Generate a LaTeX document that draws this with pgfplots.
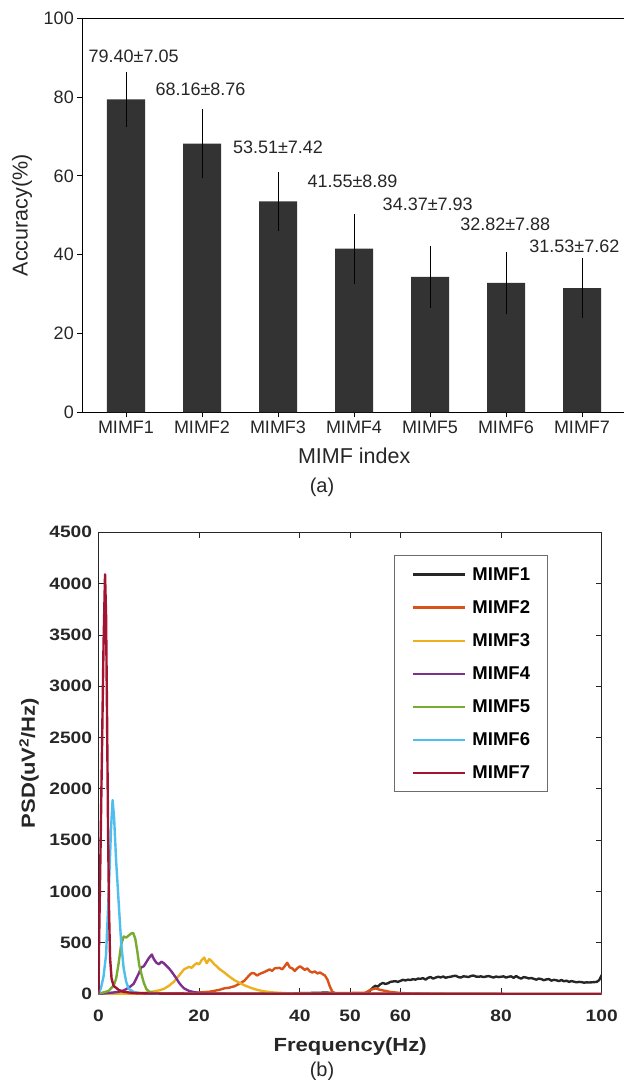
\documentclass[border=0pt]{standalone}
\usepackage{pgfplots}
\pgfplotsset{compat=1.18}
\usepackage{fontspec}
\setmainfont{Liberation Sans}
\newfontfamily\stretchsans[FakeStretch=1.16]{Liberation Sans}
\definecolor{barc}{HTML}{333333}
\definecolor{txt}{HTML}{262626}
\definecolor{mA}{HTML}{262626}
\definecolor{mB}{HTML}{D95319}
\definecolor{mC}{HTML}{EDB120}
\definecolor{mD}{HTML}{7E2F8E}
\definecolor{mE}{HTML}{77AC30}
\definecolor{mF}{HTML}{4DBEEE}
\definecolor{mG}{HTML}{A2142F}

\pgfplotstableread{
x y e
1 79.40 7.05
2 68.16 8.76
3 53.51 7.42
4 41.55 8.89
5 34.37 7.93
6 32.82 7.88
7 31.53 7.62
}\acc

\begin{document}
\begin{tikzpicture}
\useasboundingbox (0,0) rectangle (624pt,1080pt);
% ---------------- (a) ----------------
\begin{axis}[
  at={(82.3pt,667.7pt)}, anchor=south west,
  scale only axis, width=543.7pt, height=394pt,
  xmin=0.425, xmax=7.579, ymin=0, ymax=100,
  xtick={1,2,3,4,5,6,7},
  xticklabels={MIMF1,MIMF2,MIMF3,MIMF4,MIMF5,MIMF6,MIMF7},
  ytick={0,20,40,60,80,100},
  tick align=outside, xtick pos=left, ytick pos=left,
  major tick length=5pt,
  axis line style={line width=0.8pt, black},
  tick style={line width=0.8pt, black},
  /pgf/number format/assume math mode=true,
  ticklabel style={font=\fontsize{18}{20}\selectfont, text=txt},
  label style={font=\fontsize{21.5}{24}\selectfont, text=txt},
  xlabel={MIMF index},
  xlabel style={at={(axis description cs:0.5,-0.13)}, anchor=base},
  ylabel={Accuracy(\%)},
  ylabel style={at={(axis description cs:-0.1109,0.5)}, anchor=center},
  clip=false,
]
\addplot[ybar, bar width=38pt, fill=barc, draw=none,
  error bars/.cd, y dir=both, y explicit, error mark=none,
  error bar style={line width=0.9pt, black}]
  table[x=x, y=y, y error=e] {\acc};
\begin{scope}[every node/.style={font=\fontsize{18}{20}\selectfont, text=txt, inner sep=0pt, anchor=center}]
\node at (axis cs:1.10,90.4) {79.40±7.05};
\node at (axis cs:1.98,81.9) {68.16±8.76};
\node at (axis cs:3.00,67.2) {53.51±7.42};
\node at (axis cs:3.98,58.7) {41.55±8.89};
\node at (axis cs:4.97,52.9) {34.37±7.93};
\node at (axis cs:5.99,47.6) {32.82±7.88};
\node at (axis cs:6.90,42.2) {31.53±7.62};
\end{scope}
\end{axis}
\node[anchor=base, font=\fontsize{20}{22}\selectfont, text=txt] at (322pt,587pt) {(a)};

% ---------------- (b) ----------------
\begin{axis}[
  at={(98.5pt,86pt)}, anchor=south west,
  scale only axis, width=503.2pt, height=461.7pt,
  xmin=0, xmax=100, ymin=0, ymax=4500,
  xtick={0,20,40,50,60,80,100},
  ytick={0,500,1000,1500,2000,2500,3000,3500,4000,4500},
  scaled y ticks=false,
  /pgf/number format/1000 sep={},
  tick align=inside, major tick length=6pt,
  axis line style={line width=0.8pt, txt},
  tick style={line width=0.8pt, txt},
  /pgf/number format/assume math mode=true,
  ticklabel style={font=\stretchsans\bfseries\fontsize{16.5}{18}\selectfont, text=txt},
  xticklabel style={yshift=-12pt},
  yticklabel style={xshift=-3pt},
  label style={font=\stretchsans\bfseries\fontsize{19}{21}\selectfont, text=txt},
  xlabel={Frequency(Hz)},
  xlabel style={at={(axis description cs:0.5,-0.1235)}, anchor=base},
  ylabel={PSD(uV\textsuperscript{2}/Hz)},
  ylabel style={at={(axis description cs:-0.1381,0.5)}, anchor=center},
  legend style={at={(0.587,0.95)}, anchor=north west, draw=gray!85!black, line width=0.8pt,
    fill=white, font=\bfseries\fontsize{18.5}{20}\selectfont, text=black,
    inner xsep=17.5pt, inner ysep=11.5pt, row sep=18.8pt, column sep=6.7pt,
    nodes={inner sep=0pt}},
  legend cell align=left,
  legend image code/.code={\draw[#1] (0pt,0pt) -- (51.6pt,0pt);},
  every axis plot/.append style={line width=2.4pt, line join=round},
]
\addplot[mA] coordinates {
(0,0) (10,0.5) (20,1) (30,2) (35,4) (38,6) (40,8) (42,10) (44,12) (45,14) (46,12) (47,8) (48,5) (50,4) (52,5) (53,8) (53.5,15)
(54,35) (54.5,60) (55,80) (55.5,72) (56,95) (56.5,108) (57,98) (57.5,104) (58,118) (58.5,122) (59,125) (59.5,118) (60,128)
(60.5,138) (61,132) (61.5,140) (62,136) (62.5,145) (63,140) (63.5,150) (64,148) (64.5,155) (65,140) (65.5,158) (66,165)
(66.5,150) (67,160) (67.5,168) (68,162) (68.5,170) (69,158) (69.5,165) (70,168) (70.5,175) (71,178) (71.5,165) (72,160)
(72.5,172) (73,170) (73.5,165) (74,175) (74.5,180) (75,170) (75.5,168) (76,172) (76.5,165) (77,170) (77.5,175) (78,168)
(78.5,160) (79,170) (79.5,165) (80,168) (80.5,172) (81,160) (81.5,168) (82,172) (82.5,158) (83,175) (83.5,160) (84,150)
(84.5,165) (85,160) (85.5,152) (86,156) (86.5,148) (87,140) (87.5,150) (88,145) (88.5,135) (89,142) (89.5,146) (90,130)
(90.5,138) (91,134) (91.5,126) (92,136) (92.5,124) (93,130) (93.5,118) (94,126) (94.5,120) (95,114) (95.5,118) (96,116)
(96.5,110) (97,114) (97.5,112) (98,114) (98.5,116) (99,118) (99.5,135) (100,185)
};
\addlegendentry{MIMF1}
\addplot[mB] coordinates {
(0,0) (10,2) (15,5) (18,10) (20,15) (22,22) (24,40) (25,55) (26,62) (27,75) (28,100) (29,130) (30,185) (30.5,205)
(31,200) (31.5,180) (32,195) (33,215) (34,240) (34.5,225) (35,250) (36,255) (36.5,240) (37,270) (37.5,305) (38,260)
(38.5,250) (39,225) (39.5,250) (40,270) (40.5,255) (41,235) (41.5,250) (42,220) (42.5,210) (43,220) (43.5,200) (44,210)
(44.5,195) (45,180) (45.5,140) (46,70) (46.5,20) (47,10) (50,10) (53,12) (54,40) (55,55) (56,40) (57,30) (58,20) (60,10)
(62,5) (65,2) (70,0) (100,0)
};
\addlegendentry{MIMF2}
\addplot[mC] coordinates {
(0,0) (5,3) (8,8) (10,15) (12,35) (13,50) (14,80) (15,120) (16,180) (17,240) (18,265) (18.5,255) (19,280) (19.5,300)
(20,290) (20.5,330) (21,355) (21.5,300) (22,340) (22.5,320) (23,290) (23.5,270) (24,245) (25,210) (26,170) (27,135)
(28,110) (29,85) (30,65) (31,48) (32,35) (33,25) (35,14) (38,6) (42,3) (50,1) (100,0)
};
\addlegendentry{MIMF3}
\addplot[mD] coordinates {
(0,0) (2,10) (4,20) (5,35) (6,60) (7,100) (7.5,150) (8,200) (8.5,260) (9,270) (9.5,310) (10,350) (10.6,385) (11,340)
(11.5,305) (12,290) (12.5,315) (13,300) (13.5,275) (14,250) (14.5,220) (15,185) (15.5,150) (16,110) (16.5,80) (17,55)
(18,30) (19,18) (20,10) (22,5) (25,3) (30,1) (100,0)
};
\addlegendentry{MIMF4}
\addplot[mE] coordinates {
(0,5) (1,15) (2,30) (3,80) (3.5,150) (4,300) (4.5,480) (5,560) (5.5,550) (6,570) (6.5,590) (6.9,595) (7.3,540)
(7.7,420) (8.1,280) (8.5,200) (9,110) (9.5,50) (10,25) (11,10) (12,5) (15,2) (100,0)
};
\addlegendentry{MIMF5}
\addplot[mF] coordinates {
(0,0) (0.5,60) (1,170) (1.5,380) (2,950) (2.5,1620) (2.8,1890) (3.1,1720) (3.5,1300) (4,900) (4.5,500) (5,250)
(5.5,120) (6,50) (7,20) (8,10) (10,5) (20,0) (100,0)
};
\addlegendentry{MIMF6}
\addplot[mG] coordinates {
(0,0) (0.1,450) (0.4,1400) (0.7,2400) (1.0,3400) (1.3,4090) (1.5,3700) (1.7,2700) (1.9,1600) (2.1,800) (2.3,350)
(2.6,150) (3,80) (4,40) (5,20) (7,10) (10,5) (20,2) (100,0)
};
\addlegendentry{MIMF7}
\end{axis}
\node[anchor=base, font=\fontsize{20}{22}\selectfont, text=txt] at (322pt,3.6pt) {(b)};
\end{tikzpicture}
\end{document}
